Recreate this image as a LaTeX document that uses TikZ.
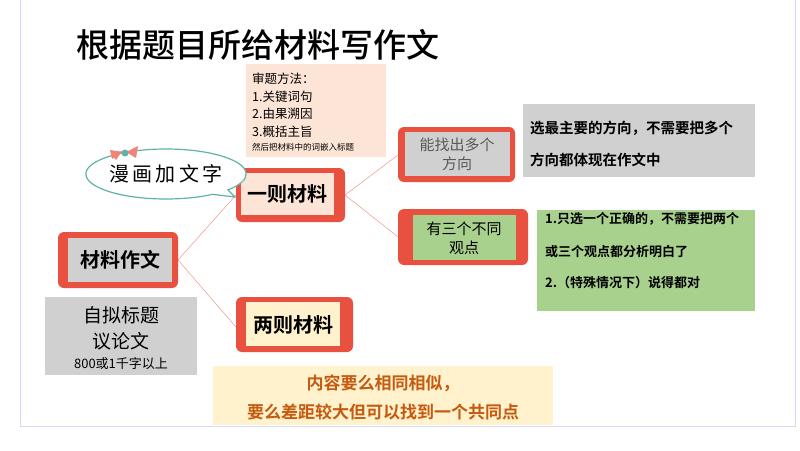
\documentclass[tikz,border=0pt]{standalone}
\usepackage{fontspec}
\setmainfont{Noto Sans CJK SC}
\newfontfamily\cjkb{Noto Sans CJK SC Bold}
\newfontfamily\cjkm{Noto Sans CJK SC Medium}
\usetikzlibrary{shapes.callouts}
\definecolor{redb}{HTML}{E8503F}
\definecolor{peach}{HTML}{FCE4D6}
\definecolor{grayf}{HTML}{D0D0D0}
\definecolor{yel}{HTML}{FFF2CC}
\definecolor{grn}{HTML}{A9D18E}
\definecolor{brn}{HTML}{C55A11}
\definecolor{teal2}{HTML}{5FB3A8}
\tikzset{
 outer/.style={fill=redb,rounded corners=6pt},
 lnk/.style={draw=redb!60,line width=0.5pt},
 txt/.style={inner sep=0pt,anchor=center},
}
\begin{document}
\begin{tikzpicture}[x=1pt,y=-1pt]
\useasboundingbox (0,0) rectangle (800,450);
\fill[white] (0,0) rectangle (800,450);
\draw[blue!15,line width=1pt] (20,0) -- (20,426) -- (795,426) -- (795,0);
\node[txt,font=\fontsize{33}{36}\selectfont\cjkm] (title) at (258,45) {根据题目所给材料写作文};
% method box
\fill[peach] (246,64) rectangle (386,157);
\node[anchor=north west,inner sep=0pt,align=left,font=\fontsize{12.5}{17.5}\selectfont] (m) at (252,73) {审题方法：\\1.关键词句\\2.由果溯因\\3.概括主旨\\[-3pt]{\fontsize{8.5}{10}\selectfont 然后把材料中的词嵌入标题}};
% connectors
\coordinate (a1) at (178,260); \coordinate (b1) at (236,195); \coordinate (c1) at (236,327);
\coordinate (b2) at (345,195); \coordinate (d1) at (398,155); \coordinate (e1) at (398,237);
\draw[lnk] (a1) -- (b1); \draw[lnk] (a1) -- (c1);
\draw[lnk] (b2) -- (d1); \draw[lnk] (b2) -- (e1);
% 一则材料
\fill[outer] (236,168) rectangle (345,222);
\fill[peach] (241,173) rectangle (334,215);
\node[txt,font=\fontsize{20}{20}\selectfont\cjkb] (yz) at (287,194) {一则材料};
% 材料作文
\fill[outer] (58,232) rectangle (178,288);
\fill[grayf] (68,238) rectangle (172,282);
\node[txt,font=\fontsize{20}{20}\selectfont\cjkb] (clzw) at (120,260) {材料作文};
% 两则材料
\fill[outer] (236,297) rectangle (353,352);
\fill[yel] (246,302) rectangle (340,346);
\node[txt,font=\fontsize{20}{20}\selectfont\cjkb] (lz) at (293,325) {两则材料};
% gray info
\fill[grayf] (45,297) rectangle (197,375);
\node[txt,font=\fontsize{19}{20}\selectfont] (zn) at (121,315) {自拟标题};
\node[txt,font=\fontsize{19}{20}\selectfont] (yl) at (121,341) {议论文};
\node[txt,font=\fontsize{13}{14}\selectfont] (zs) at (121,364) {800或1千字以上};
% yellow
\fill[yel] (213,366) rectangle (553,425);
\node[txt,text=brn,font=\fontsize{17}{18}\selectfont\cjkb] (y1) at (383,383) {内容要么相同相似，};
\node[txt,text=brn,font=\fontsize{17}{18}\selectfont\cjkb] (y2) at (383,412) {要么差距较大但可以找到一个共同点};
% 能找出
\fill[outer] (398,127) rectangle (515,182);
\fill[grayf] (405,132) rectangle (510,176);
\node[txt,align=center,text=black!65,font=\fontsize{15}{19}\selectfont] (nz) at (457,154) {能找出多个\\方向};
\fill[grayf] (523,104) rectangle (755,177);
\node[anchor=west,inner sep=0pt,font=\fontsize{14.5}{15}\selectfont\cjkb] (s1) at (530,128) {选最主要的方向，不需要把多个};
\node[anchor=west,inner sep=0pt,font=\fontsize{14.5}{15}\selectfont\cjkb] (s2) at (530,160) {方向都体现在作文中};
% 有三个
\fill[outer] (398,209) rectangle (528,265);
\fill[grn] (413,215) rectangle (516,260);
\node[txt,align=center,font=\fontsize{15}{19}\selectfont] (ys) at (464,238) {有三个不同\\观点};
\fill[grn] (537,210) rectangle (755,311);
\node[anchor=west,inner sep=0pt,font=\fontsize{13}{14}\selectfont\cjkb] (g1) at (545,219) {1.只选一个正确的，不需要把两个};
\node[anchor=west,inner sep=0pt,font=\fontsize{13}{14}\selectfont\cjkb] (g2) at (545,252) {或三个观点都分析明白了};
\node[anchor=west,inner sep=0pt,font=\fontsize{13}{14}\selectfont\cjkb] (g3) at (545,283) {2.（特殊情况下）说得都对};
% bubble
\node[ellipse callout,draw=teal2,line width=1.2pt,fill=white,minimum width=132pt,minimum height=50pt,inner sep=0pt,callout absolute pointer={(235,197)},font=\fontsize{20}{20}\selectfont] (bub) at (166,174) {漫\,画\,加\,文\,字};
\fill[redb!70] (112,109+46) -- (122,103+48) -- (116,114+46) -- cycle;
\fill[redb!70] (110,104+46) -- (124,152) -- (112,113+46) -- cycle;
\fill[redb!70] (126,152) -- (138,146) -- (136,158) -- cycle;
\fill[teal2] (125,153) circle (3.5pt);
\end{tikzpicture}
\end{document}
